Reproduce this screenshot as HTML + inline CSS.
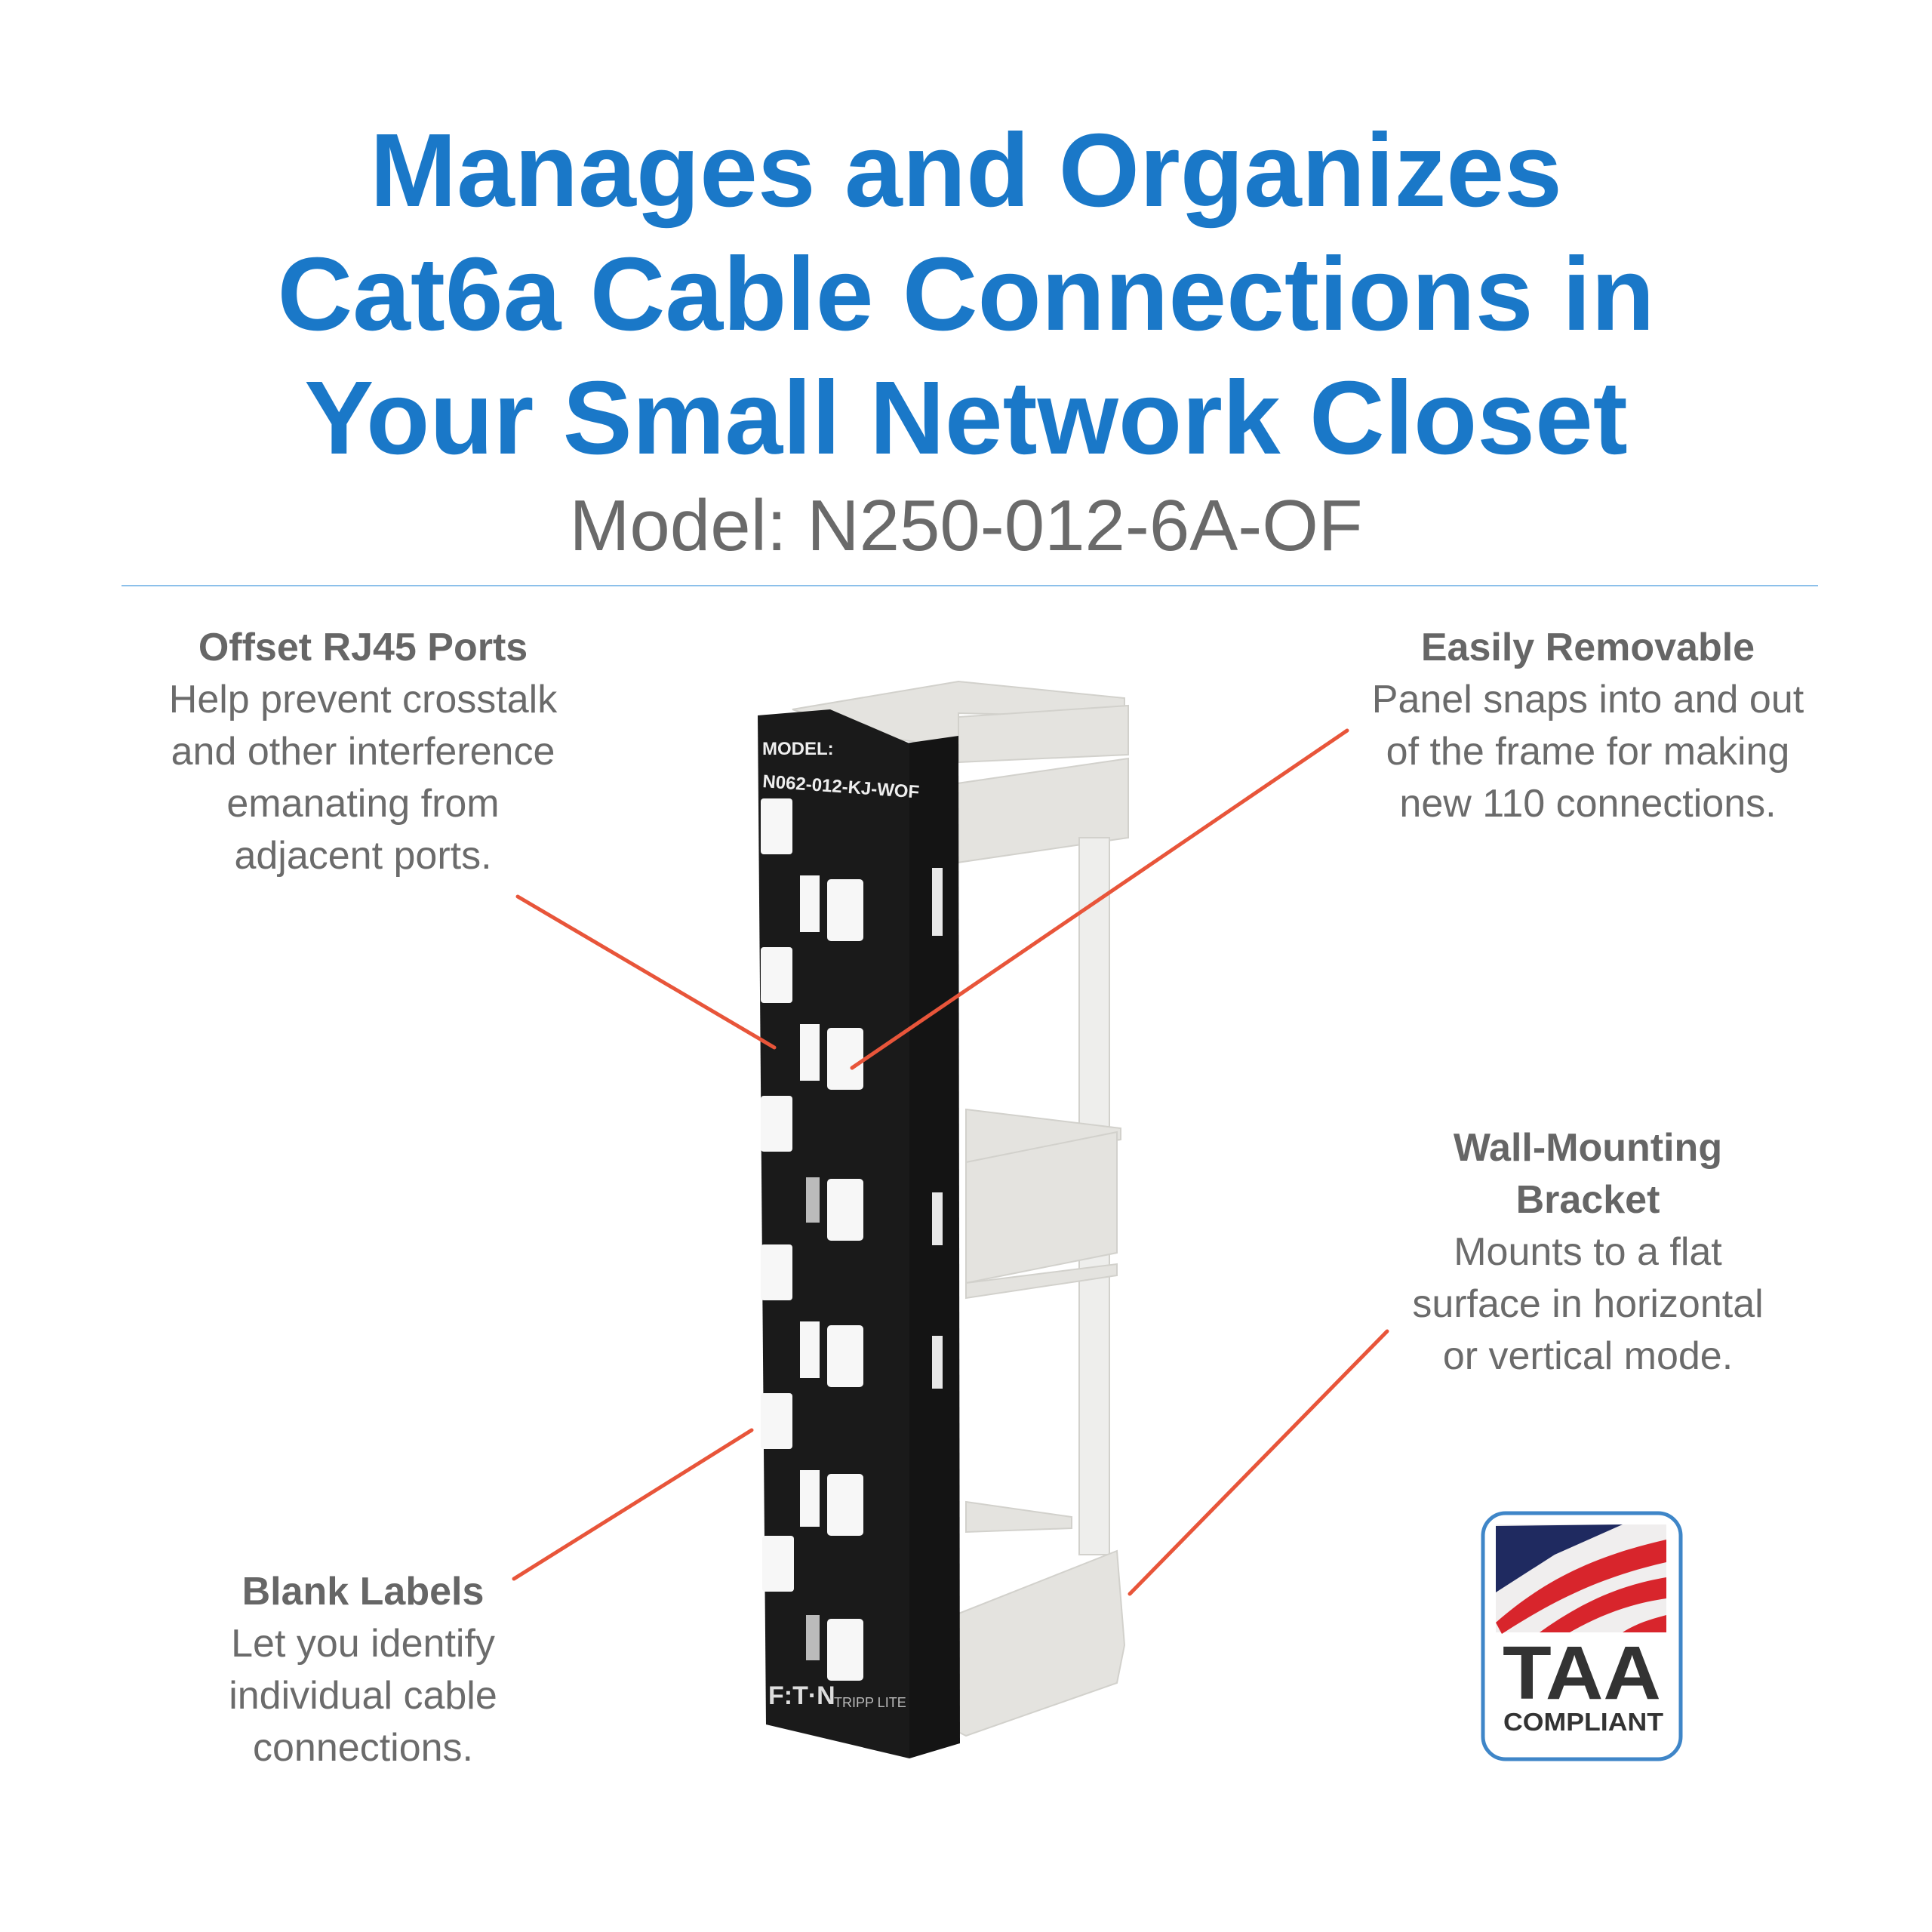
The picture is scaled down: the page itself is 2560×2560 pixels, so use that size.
<!DOCTYPE html>
<html><head><meta charset="utf-8"><style>
html,body{margin:0;padding:0;background:#fff;}
body{width:2560px;height:2560px;position:relative;overflow:hidden;font-family:"Liberation Sans",sans-serif;}
.t{position:absolute;left:0;width:2560px;text-align:center;color:#1a78c8;font-weight:bold;font-size:138px;line-height:164px;letter-spacing:0px;}
.blk{position:absolute;text-align:center;color:#6b6b6b;font-size:52px;line-height:69px;width:800px;}
.blk b{color:#666;}
</style></head><body>
<div class="t" style="top:144px;">Manages and Organizes<br>Cat6a Cable Connections in<br>Your Small Network Closet</div>
<div style="position:absolute;left:0;width:2560px;top:642px;text-align:center;color:#6a6a6a;font-size:96px;line-height:110px;">Model: N250-012-6A-OF</div>
<div style="position:absolute;left:161px;top:775px;width:2248px;height:2px;background:#8cc0ea;"></div>

<div class="blk" style="left:81px;top:824px;"><b>Offset RJ45 Ports</b><br>Help prevent crosstalk<br>and other interference<br>emanating from<br>adjacent ports.</div>
<div class="blk" style="left:1704px;top:824px;"><b>Easily Removable</b><br>Panel snaps into and out<br>of the frame for making<br>new 110 connections.</div>
<div class="blk" style="left:1704px;top:1487px;"><b>Wall-Mounting<br>Bracket</b><br>Mounts to a flat<br>surface in horizontal<br>or vertical mode.</div>
<div class="blk" style="left:81px;top:2075px;"><b>Blank Labels</b><br>Let you identify<br>individual cable<br>connections.</div>

<svg width="2560" height="2560" style="position:absolute;left:0;top:0;">
  <g fill="#e4e3df" stroke="#d2d1cc" stroke-width="2">
    <polygon points="1050,940 1270,903 1490,925 1490,950 1270,945 1270,990 1150,975"/>
    <polygon points="1270,950 1495,935 1495,1000 1270,1010"/>
    <polygon points="1255,1040 1495,1005 1495,1110 1255,1145"/>
    <rect x="1430" y="1110" width="40" height="950" fill="#eeeeec"/>
    <polygon points="1280,1470 1485,1495 1485,1510 1280,1540"/>
    <polygon points="1280,1540 1480,1500 1480,1660 1280,1700"/>
    <polygon points="1280,1700 1480,1675 1480,1690 1280,1720"/>
    <polygon points="1280,1990 1420,2010 1420,2025 1280,2030"/>
    <polygon points="1240,2150 1480,2055 1490,2180 1480,2230 1280,2300 1240,2280"/>
  </g>
  <polygon points="1200,985 1270,975 1272,2310 1205,2330" fill="#141414"/>
  <rect x="1235" y="1150" width="14" height="90" fill="#e8e8e8"/>
  <rect x="1235" y="1580" width="14" height="70" fill="#e8e8e8"/>
  <rect x="1235" y="1770" width="14" height="70" fill="#e8e8e8"/>
  <polygon points="1004,948 1100,940 1205,985 1205,2330 1015,2285" fill="#1a1a1a"/>
  <text x="1010" y="1000" fill="#eee" font-size="24" font-weight="bold">MODEL:</text>
  <text x="1010" y="1043" fill="#eee" font-size="24" font-weight="bold" transform="rotate(4 1010 1043)">N062-012-KJ-WOF</text>
  <g fill="#f7f7f7">
    <rect x="1008" y="1058" width="42" height="74" rx="4"/>
    <rect x="1060" y="1160" width="26" height="75"/><rect x="1096" y="1165" width="48" height="82" rx="5"/>
    <rect x="1008" y="1255" width="42" height="74" rx="4"/>
    <rect x="1060" y="1357" width="26" height="75"/><rect x="1096" y="1362" width="48" height="82" rx="5"/>
    <rect x="1008" y="1452" width="42" height="74" rx="4"/>
    <rect x="1068" y="1560" width="18" height="60" fill="#bbb"/><rect x="1096" y="1562" width="48" height="82" rx="5"/>
    <rect x="1008" y="1649" width="42" height="74" rx="4"/>
    <rect x="1060" y="1751" width="26" height="75"/><rect x="1096" y="1756" width="48" height="82" rx="5"/>
    <rect x="1008" y="1846" width="42" height="74" rx="4"/>
    <rect x="1060" y="1948" width="26" height="75"/><rect x="1096" y="1953" width="48" height="82" rx="5"/>
    <rect x="1010" y="2035" width="42" height="74" rx="4"/>
    <rect x="1068" y="2140" width="18" height="60" fill="#bbb"/><rect x="1096" y="2145" width="48" height="82" rx="5"/>
  </g>
  <text x="1018" y="2258" fill="#ddd" font-size="34" font-weight="bold">F:T·N</text>
  <text x="1105" y="2262" fill="#bbb" font-size="18">TRIPP LITE</text>
  <g stroke="#e8553a" stroke-width="5" stroke-linecap="round">
    <line x1="686" y1="1188" x2="1026" y2="1388"/>
    <line x1="1785" y1="968" x2="1129" y2="1415"/>
    <line x1="1838" y1="1764" x2="1497" y2="2112"/>
    <line x1="681" y1="2092" x2="996" y2="1895"/>
  </g>
  <rect x="1965" y="2005" width="262" height="326" rx="30" fill="#fff" stroke="#3f86c8" stroke-width="5"/>
  <rect x="1982" y="2020" width="226" height="143" fill="#f0eeee"/>
  <polygon points="1982,2022 2150,2020 2060,2060 1982,2110" fill="#1f2a60"/>
  <path d="M1982,2150 C2050,2090 2120,2060 2208,2040 L2208,2070 C2120,2090 2060,2120 1990,2165 Z" fill="#d8252c"/>
  <path d="M2040,2163 C2100,2120 2150,2100 2208,2090 L2208,2118 C2160,2125 2120,2140 2080,2163 Z" fill="#d8252c"/>
  <path d="M2150,2163 C2170,2150 2190,2145 2208,2140 L2208,2163 Z" fill="#d8252c"/>
  <text x="2096" y="2251" text-anchor="middle" fill="#333" font-size="100" font-weight="bold" textLength="210" lengthAdjust="spacingAndGlyphs">TAA</text>
  <text x="2098" y="2293" text-anchor="middle" fill="#333" font-size="33" font-weight="bold" textLength="212" lengthAdjust="spacingAndGlyphs">COMPLIANT</text>
</svg>
</body></html>
